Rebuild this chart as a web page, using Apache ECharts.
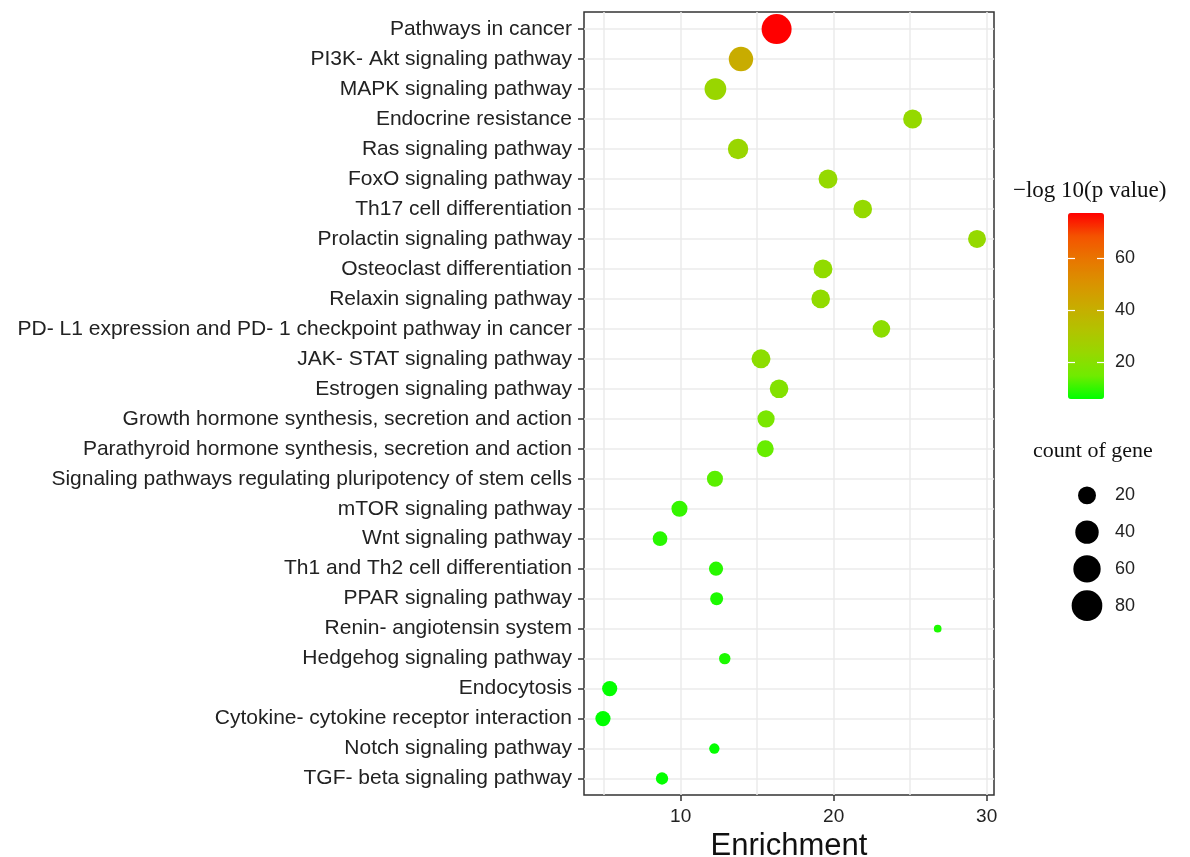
<!DOCTYPE html>
<html>
<head>
<meta charset="utf-8">
<script src="https://cdn.jsdelivr.net/npm/echarts@6/dist/echarts.min.js"></script>
<style>
html,body{margin:0;padding:0;background:#fff;}
#chart{width:1190px;height:857px;}
</style>
</head>
<body>
<div id="chart"></div>
<script>
const categories = [
  'Pathways in cancer',
  'PI3K- Akt signaling pathway',
  'MAPK signaling pathway',
  'Endocrine resistance',
  'Ras signaling pathway',
  'FoxO signaling pathway',
  'Th17 cell differentiation',
  'Prolactin signaling pathway',
  'Osteoclast differentiation',
  'Relaxin signaling pathway',
  'PD- L1 expression and PD- 1 checkpoint pathway in cancer',
  'JAK- STAT signaling pathway',
  'Estrogen signaling pathway',
  'Growth hormone synthesis, secretion and action',
  'Parathyroid hormone synthesis, secretion and action',
  'Signaling pathways regulating pluripotency of stem cells',
  'mTOR signaling pathway',
  'Wnt signaling pathway',
  'Th1 and Th2 cell differentiation',
  'PPAR signaling pathway',
  'Renin- angiotensin system',
  'Hedgehog signaling pathway',
  'Endocytosis',
  'Cytokine- cytokine receptor interaction',
  'Notch signaling pathway',
  'TGF- beta signaling pathway'
];
const enrichment = [16.27, 13.94, 12.27, 25.16, 13.75, 19.63, 21.9, 29.37, 19.3, 19.15, 23.12, 15.25, 16.43, 15.58, 15.53, 12.24, 9.92, 8.65, 12.31, 12.35, 26.8, 12.88, 5.36, 4.92, 12.2, 8.78];
const negLogP = [77.3, 41, 24, 23, 24, 23, 23, 23, 22, 22, 21, 21, 19, 17, 14, 13, 10, 9, 9, 8, 8, 8, 6, 5.8, 6, 6];
const geneCount = [76, 45, 33, 23, 28, 23, 22, 20, 23, 22, 19, 23, 22, 18, 17, 15, 15, 12, 11, 9, 5, 7, 13, 13, 6, 8];
const xTickLabels = [10, 20, 30];
const xGridValues = [5, 10, 15, 20, 25, 30];
const colorTicks = [20, 40, 60];
const sizeLegendValues = [20, 40, 60, 80];

const pMin = 5.8, pMax = 77.3;
function dotSize(c) { return 7.7 + 2.65 * Math.sqrt(Math.max(c - 5, 0)); }

const mainData = categories.map((c, i) => [enrichment[i], i, negLogP[i], geneCount[i]]);
const catIdx = categories.map((c, i) => i);

const chart = echarts.init(document.getElementById('chart'));
const sans = 'Liberation Sans, Arial, sans-serif';
const serif = 'Liberation Serif, Times New Roman, serif';

chart.setOption({
  backgroundColor: '#ffffff',
  animation: false,
  title: [
    { text: '\u2212log 10(p value)', left: 1013, top: 179, padding: 0,
      textStyle: { fontFamily: serif, fontSize: 23, fontWeight: 'normal', color: '#111' } },
    { text: 'count of gene', left: 1033, top: 440, padding: 0,
      textStyle: { fontFamily: serif, fontSize: 22, fontWeight: 'normal', color: '#111' } }
  ],
  grid: [
    { left: 584, top: 12, width: 410, height: 783, show: true, borderColor: '#333', borderWidth: 1.5, backgroundColor: '#fff', containLabel: false, outerBoundsMode: 'none' },
    { left: 1070, top: 477, width: 34, height: 147, containLabel: false, outerBoundsMode: 'none' },
    { left: 1068, top: 213, width: 36, height: 186, containLabel: false, outerBoundsMode: 'none' }
  ],
  xAxis: [
    { type: 'value', gridIndex: 0, position: 'bottom', min: 3.68, max: 30.48,
      name: 'Enrichment', nameLocation: 'middle', nameGap: 30,
      nameTextStyle: { fontFamily: sans, fontSize: 31, color: '#111' },
      axisLine: { show: false },
      axisTick: { show: false, customValues: xGridValues },
      axisLabel: { customValues: xTickLabels, fontFamily: sans, fontSize: 19, color: '#222', margin: 12 },
      splitLine: { show: true, lineStyle: { color: '#ebebeb', width: 1.5 } } },
    { type: 'value', gridIndex: 0, position: 'bottom', offset: 0, min: 3.68, max: 30.48,
      axisLine: { show: false },
      axisTick: { show: true, customValues: xTickLabels, length: 6, lineStyle: { color: '#333', width: 1.5 } },
      axisLabel: { show: false },
      splitLine: { show: false } },
    { type: 'value', gridIndex: 1, min: -1, max: 1, show: false },
    { type: 'value', gridIndex: 2, min: 0, max: 1, show: false }
  ],
  yAxis: [
    { type: 'value', gridIndex: 0, inverse: true, min: -0.57, max: 25.55,
      axisLine: { show: false },
      axisTick: { show: true, customValues: catIdx, length: 6, lineStyle: { color: '#333', width: 1.5 } },
      axisLabel: { customValues: catIdx, formatter: v => categories[Math.round(v)] || '',
        fontFamily: sans, fontSize: 21, color: '#222', margin: 12 },
      splitLine: { show: true, lineStyle: { color: '#ebebeb', width: 1.5 } } },
    { type: 'category', gridIndex: 1, inverse: true, position: 'right',
      data: sizeLegendValues.map(String),
      axisLine: { show: false }, axisTick: { show: false },
      axisLabel: { fontFamily: sans, fontSize: 18, color: '#222', margin: 11 },
      splitLine: { show: false } },
    { type: 'value', gridIndex: 2, min: pMin, max: pMax, position: 'left', z: 10,
      axisLine: { show: false },
      axisTick: { show: true, inside: true, customValues: colorTicks, length: 7, lineStyle: { color: '#fff', width: 1.2 } },
      axisLabel: { show: false }, splitLine: { show: false } },
    { type: 'value', gridIndex: 2, min: pMin, max: pMax, position: 'right', z: 10,
      axisLine: { show: false },
      axisTick: { show: true, inside: true, customValues: colorTicks, length: 7, lineStyle: { color: '#fff', width: 1.2 } },
      axisLabel: { customValues: colorTicks, fontFamily: sans, fontSize: 18, color: '#222', margin: 11 },
      splitLine: { show: false } }
  ],
  visualMap: [{
    type: 'continuous', seriesIndex: 0, dimension: 2,
    min: pMin, max: pMax, calculable: false, realtime: false,
    left: 1068, top: 213, padding: 0, itemWidth: 36, itemHeight: 186,
    text: null, showLabel: false, hoverLink: false,
    inRange: { color: ['#00ff00', '#70eb00', '#98d700', '#b3c200', '#c9ab00', '#da9200', '#e87600', '#f45300', '#ff0000'] }
  }],
  series: [
    { type: 'scatter', xAxisIndex: 0, yAxisIndex: 0, data: mainData,
      symbol: 'circle', symbolSize: v => dotSize(v[3]),
      itemStyle: { opacity: 1 }, emphasis: { disabled: true }, z: 3 },
    { type: 'scatter', xAxisIndex: 2, yAxisIndex: 1,
      data: sizeLegendValues.map(v => [0, String(v), v]),
      symbol: 'circle', symbolSize: v => dotSize(v[2]),
      itemStyle: { color: '#000', opacity: 1 }, emphasis: { disabled: true } }
  ]
});
</script>
</body>
</html>
